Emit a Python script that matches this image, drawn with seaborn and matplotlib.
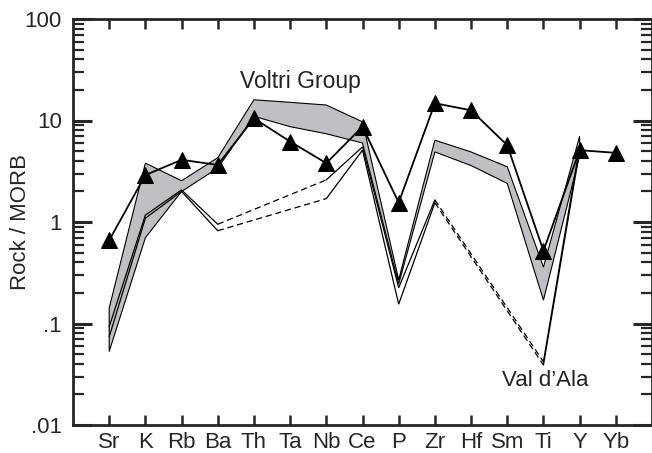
import numpy as np
import matplotlib
matplotlib.use("Agg")
import matplotlib.pyplot as plt
import seaborn as sns
import pandas as pd
from matplotlib.ticker import FixedLocator, FixedFormatter, LogLocator, NullFormatter

nan = np.nan
elements = ["Sr", "K", "Rb", "Ba", "Th", "Ta", "Nb", "Ce", "P", "Zr", "Hf", "Sm", "Ti", "Y", "Yb"]
sample = [0.66, 2.9, 4.1, 3.65, 10.5, 6.2, 3.8, 8.7, 1.55, 14.8, 12.6, 5.7, 0.52, 5.1, 4.8]
voltri_upper = [0.142, 3.8, 2.55, 4.3, 16.0, 15.1, 14.2, 9.7, 0.27, 6.4, 4.9, 3.5, 0.36, 7.0, nan]
voltri_lower = [0.053, 0.70, 2.0, 3.4, 11.0, 8.7, 7.4, 6.0, 0.245, 4.9, 3.6, 2.4, 0.17, 4.5, nan]
valdala_1 = [0.093, 1.17, 2.07, 0.95, nan, nan, 2.6, 5.5, 0.225, 1.65, nan, nan, 0.042, 5.6, nan]
valdala_2 = [0.074, 1.09, 2.0, 0.82, nan, nan, 1.7, 5.1, 0.155, 1.55, nan, nan, 0.039, 5.0, nan]
ytick_vals = [0.01, 0.1, 1, 10, 100]
ytick_labels = [".01", ".1", "1", "10", "100"]

sns.set_style("ticks")
plt.rcParams["font.family"] = ["Liberation Sans", "DejaVu Sans"]

fig = plt.figure(figsize=(6.52, 4.53), dpi=100)
ax = fig.add_axes([73 / 652, 28 / 453, 579 / 652, 406 / 453])
ax.set_yscale("log")

pos = np.arange(len(elements))

# Voltri Group envelope
up = np.array(voltri_upper)
lo = np.array(voltri_lower)
mu = ~np.isnan(up)
ml = ~np.isnan(lo)
px = np.concatenate([pos[mu], pos[ml][::-1]])
py = np.concatenate([up[mu], lo[ml][::-1]])
ax.fill(px, py, facecolor="#bfc0c3", edgecolor="black", linewidth=0.8, zorder=1)

# Val d'Ala samples (solid where data exist, dashed across missing elements)
for series in (valdala_1, valdala_2):
    arr = np.array(series)
    ax.plot(pos, arr, color="black", lw=0.9, zorder=2, solid_joinstyle="miter")
    valid = pos[~np.isnan(arr)]
    for i, j in zip(valid[:-1], valid[1:]):
        if j - i > 1:
            ax.plot([i, j], [arr[i], arr[j]], color="black", lw=0.9,
                    linestyle=(0, (5, 3)), zorder=2)

# Sample with triangles
df = pd.DataFrame({"x": pos, "y": sample})
sns.lineplot(data=df, x="x", y="y", ax=ax, color="black", lw=1.3, marker="^",
             markersize=11, markeredgecolor="black", markerfacecolor="black",
             sort=False, zorder=3)

ax.set_xlim(-1, len(elements))
ax.set_ylim(0.01, 100)
ax.set_xticks(pos)
ax.set_xticklabels(elements)
ax.yaxis.set_major_locator(FixedLocator(ytick_vals))
ax.yaxis.set_major_formatter(FixedFormatter(ytick_labels))
ax.yaxis.set_minor_locator(LogLocator(base=10, subs=np.arange(2, 10)))
ax.yaxis.set_minor_formatter(NullFormatter())

ax.set_xlabel("")
ax.set_ylabel("Rock / MORB", fontsize=16)
ax.yaxis.set_label_coords(-0.073, 0.5)

ax.tick_params(axis="y", which="major", direction="in", length=14, width=2.2,
               left=True, right=True, labelsize=16, pad=8)
ax.tick_params(axis="y", which="minor", direction="in", length=8, width=1.6,
               left=True, right=True)
ax.tick_params(axis="x", which="major", direction="in", length=7, width=1.8,
               top=True, bottom=True, labelsize=16, pad=5)
ax.tick_params(axis="x", which="minor", bottom=False, top=False)
for s in ax.spines.values():
    s.set_linewidth(2.0)
    s.set_visible(True)

ax.text(5.28, 24, "Voltri Group", fontsize=16.5, ha="center", va="center", color="#222222")
ax.text(12.05, 0.0277, "Val d\u2019Ala", fontsize=16, ha="center", va="center", color="#222222")

fig.savefig("out.png", dpi=100)
